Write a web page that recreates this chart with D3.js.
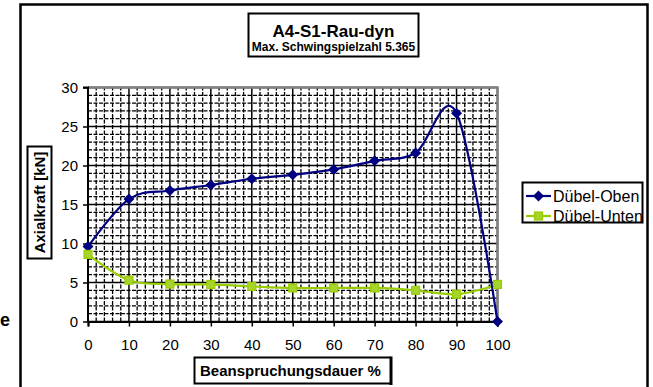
<!DOCTYPE html>
<html><head><meta charset="utf-8">
<script src="https://cdn.jsdelivr.net/npm/d3@7"></script>
<style>
html,body{margin:0;padding:0;background:#fff;}
svg{display:block;font-family:"Liberation Sans",Arial,sans-serif;}
</style></head>
<body>
<svg id="c" width="653" height="387"></svg>
<script>
const xValues = [0, 10, 20, 30, 40, 50, 60, 70, 80, 90, 100];
const obenValues = [9.6, 15.7, 16.8, 17.5, 18.3, 18.8, 19.5, 20.6, 21.6, 26.7, 0];
const untenValues = [8.6, 5.3, 4.8, 4.75, 4.5, 4.3, 4.3, 4.3, 4.0, 3.5, 4.75];
const seriesNames = ["Dübel-Oben", "Dübel-Unten"];
const xTicks = [0, 10, 20, 30, 40, 50, 60, 70, 80, 90, 100];
const yTicks = [0, 5, 10, 15, 20, 25, 30];
const titleText = "A4-S1-Rau-dyn";
const subtitleText = "Max. Schwingspielzahl 5.365";
const xTitle = "Beanspruchungsdauer %";
const yTitle = "Axialkraft [kN]";

const svg = d3.select("#c");
const x = d3.scaleLinear().domain([0, 100]).range([88, 497.5]);
const y = d3.scaleLinear().domain([0, 30]).range([321.5, 87.5]);

// outer border
svg.append("rect").attr("x", 20.5).attr("y", 4.5).attr("width", 627).attr("height", 400)
  .attr("fill", "none").attr("stroke", "#000").attr("stroke-width", 2.5);

// stray letter at left edge
svg.append("text").attr("x", 0).attr("y", 326).attr("font-size", 18).attr("font-weight", "bold").text("e");

// grid
const g = svg.append("g");
const minorX = d3.range(0, 101, 2).filter(v => v % 10 !== 0);
const minorY = d3.range(0, 31, 1).filter(v => v % 5 !== 0);
g.selectAll(".mx").data(minorX).join("line")
  .attr("x1", d => x(d)).attr("x2", d => x(d)).attr("y1", y(0)).attr("y2", y(30))
  .attr("stroke", "#000").attr("stroke-width", 1.3).attr("stroke-dasharray", "4,1.5");
g.selectAll(".my").data(minorY).join("line")
  .attr("y1", d => y(d)).attr("y2", d => y(d)).attr("x1", x(0)).attr("x2", x(100))
  .attr("stroke", "#000").attr("stroke-width", 1.3).attr("stroke-dasharray", "4,1.5");
g.selectAll(".Mx").data(xTicks).join("line")
  .attr("x1", d => x(d)).attr("x2", d => x(d)).attr("y1", y(0)).attr("y2", y(30))
  .attr("stroke", "#000").attr("stroke-width", 1.5);
g.selectAll(".My").data(yTicks).join("line")
  .attr("y1", d => y(d)).attr("y2", d => y(d)).attr("x1", x(0)).attr("x2", x(100))
  .attr("stroke", "#000").attr("stroke-width", 1.5);

// plot border top/right gray
svg.append("path")
  .attr("d", `M${x(0)},${y(30)}H${x(100)}V${y(0)}`)
  .attr("fill", "none").attr("stroke", "#808080").attr("stroke-width", 2.5);

// axes
const xAxis = svg.append("g").attr("transform", `translate(0,${y(0)})`)
  .call(d3.axisBottom(x).tickValues(xTicks).tickSize(5).tickPadding(13));
const yAxis = svg.append("g").attr("transform", `translate(${x(0)},0)`)
  .call(d3.axisLeft(y).tickValues(yTicks).tickSize(5).tickPadding(5));
[xAxis, yAxis].forEach(a => {
  a.select(".domain").attr("stroke", "#000").attr("stroke-width", 2);
  a.selectAll(".tick line").attr("stroke", "#000").attr("stroke-width", 1.5);
  a.selectAll("text").attr("font-size", 15).attr("fill", "#000")
    .attr("font-family", "Liberation Sans, Arial, sans-serif");
});
yAxis.select(".domain").attr("d", `M-5,${y(30)}H0V${y(0)}`);

// series
const line = d3.line().x(d => x(d[0])).y(d => y(d[1])).curve(d3.curveCardinal.tension(0));
const obenPts = xValues.map((v, i) => [v, obenValues[i]]);
const untenPts = xValues.map((v, i) => [v, untenValues[i]]);
const obenColor = "#000080", untenColor = "#99CC00";

svg.append("path").datum(untenPts).attr("d", line).attr("fill", "none")
  .attr("stroke", untenColor).attr("stroke-width", 2.2);
svg.append("path").datum(obenPts).attr("d", line).attr("fill", "none")
  .attr("stroke", obenColor).attr("stroke-width", 2.2);

const diamond = "M0,-5.5L5.5,0L0,5.5L-5.5,0Z";
svg.selectAll(".mo").data(obenPts).join("path")
  .attr("transform", d => `translate(${x(d[0])},${y(d[1])})`)
  .attr("d", diamond).attr("fill", obenColor);
svg.selectAll(".mu").data(untenPts).join("rect")
  .attr("x", d => x(d[0]) - 4).attr("y", d => y(d[1]) - 4)
  .attr("width", 8).attr("height", 8)
  .attr("fill", "#a6d42a").attr("stroke", untenColor).attr("stroke-width", 1.2);

// title box
svg.append("rect").attr("x", 248.5).attr("y", 13.5).attr("width", 170).attr("height", 43)
  .attr("fill", "#fff").attr("stroke", "#000").attr("stroke-width", 2);
svg.append("text").attr("x", 333.5).attr("y", 36.5).attr("text-anchor", "middle")
  .attr("font-size", 17).attr("font-weight", "bold").text(titleText);
svg.append("text").attr("x", 333.5).attr("y", 51).attr("text-anchor", "middle")
  .attr("font-size", 12).attr("font-weight", "bold").text(subtitleText);

// y title box
svg.append("rect").attr("x", 27.5).attr("y", 146.5).attr("width", 24).attr("height", 112)
  .attr("fill", "#fff").attr("stroke", "#000").attr("stroke-width", 2);
svg.append("text").attr("transform", "translate(45,202.5) rotate(-90)")
  .attr("text-anchor", "middle").attr("font-size", 15).attr("font-weight", "bold").text(yTitle);

// x title box
svg.append("text").attr("x", 200).attr("y", 376)
  .attr("font-size", 15).attr("font-weight", "bold").text(xTitle);
svg.append("path").attr("d", "M391,357.5H194.5V383.5H391")
  .attr("fill", "none").attr("stroke", "#000").attr("stroke-width", 2);
svg.append("line").attr("x1", 391).attr("x2", 391).attr("y1", 356.5).attr("y2", 385)
  .attr("stroke", "#000").attr("stroke-width", 3);

// legend
const lg = svg.append("g");
lg.append("rect").attr("x", 522.5).attr("y", 182.5).attr("width", 120).attr("height", 40)
  .attr("fill", "#fff").attr("stroke", "#000").attr("stroke-width", 2);
const rows = [
  {name: seriesNames[0], color: obenColor, yc: 196},
  {name: seriesNames[1], color: untenColor, yc: 216}
];
rows.forEach((r, i) => {
  lg.append("line").attr("x1", 526).attr("x2", 551).attr("y1", r.yc).attr("y2", r.yc)
    .attr("stroke", r.color).attr("stroke-width", 2.2);
  if (i === 0) {
    lg.append("path").attr("transform", `translate(538.5,${r.yc})`).attr("d", diamond).attr("fill", r.color);
  } else {
    lg.append("rect").attr("x", 534.5).attr("y", r.yc - 4).attr("width", 8).attr("height", 8)
      .attr("fill", "#a6d42a").attr("stroke", r.color).attr("stroke-width", 1.2);
  }
  lg.append("text").attr("x", 553).attr("y", r.yc + 6).attr("font-size", 16).text(r.name);
});
</script>
</body></html>
